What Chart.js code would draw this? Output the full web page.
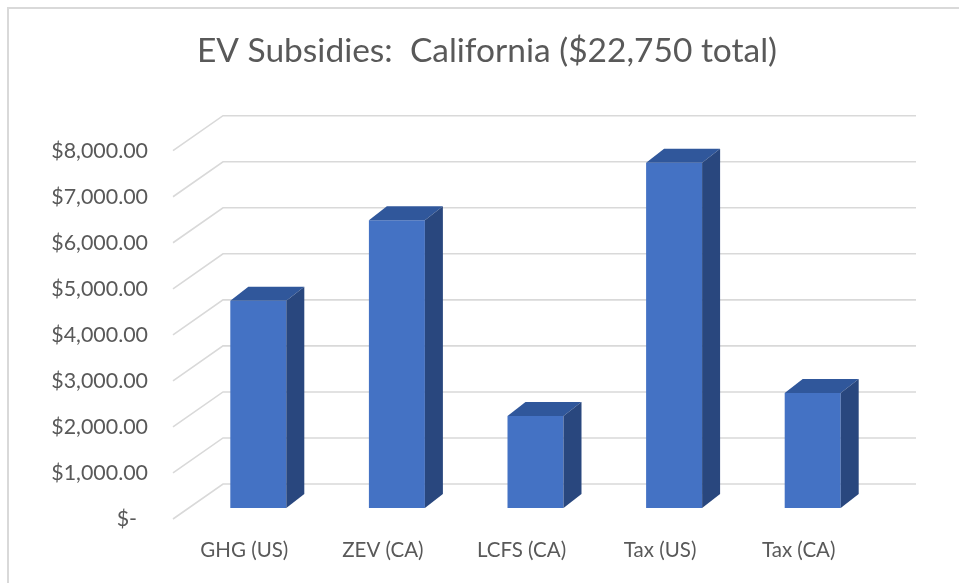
<!DOCTYPE html>
<html>
<head>
<meta charset="utf-8">
<title>EV Subsidies: California</title>
<script src="https://cdn.jsdelivr.net/npm/chart.js@4.4.1/dist/chart.umd.min.js"></script>
<style>
  html, body { margin: 0; padding: 0; background: #fff; }
  #frame {
    position: absolute; left: 7px; top: 7px; width: 960px; height: 580px;
    border-left: 2px solid #d9d9d9; border-top: 2px solid #d9d9d9;
  }
  #wrap { position: absolute; left: 0; top: 0; width: 959px; height: 583px; }
</style>
</head>
<body>
<div id="frame"></div>
<div id="wrap"><canvas id="subsidyChart"></canvas></div>
<script>
// Chart data
const categories = ['GHG (US)', 'ZEV (CA)', 'LCFS (CA)', 'Tax (US)', 'Tax (CA)'];
const subsidyValues = [4500, 6250, 2000, 7500, 2500];
const yTicks = [0, 1000, 2000, 3000, 4000, 5000, 6000, 7000, 8000];

// 3D look (Excel style 3-D column)
const textColor = '#595959';
const gridColor = '#d9d9d9';
const frontColor = '#4472c4';
const topColor = '#30579b';
const sideColor = '#29477e';
const barDepth = { dx: 18, dy: 14 };
const floorFront = { dx: -16, dy: 11 };
const floorBack = { dx: 34, dy: -24 };

// Excel accounting style: "$-" for zero
function formatMoney(v) {
    if (v === 0) return '$-  ';
    return '$' + v.toLocaleString('en-US', { minimumFractionDigits: 2, maximumFractionDigits: 2 });
}

const depth3d = {
    id: 'depth3d',
    // floor-to-wall gridlines, bent at the back wall
    beforeDatasetsDraw(chart) {
        const { ctx, chartArea, scales } = chart;
        const y = scales.y;
        ctx.save();
        ctx.strokeStyle = gridColor;
        ctx.lineWidth = 1.6;
        y.ticks.forEach(t => {
            const py = y.getPixelForValue(t.value);
            ctx.beginPath();
            ctx.moveTo(chartArea.left + floorFront.dx, py + floorFront.dy);
            ctx.lineTo(chartArea.left + floorBack.dx, py + floorBack.dy);
            ctx.lineTo(chartArea.right + floorBack.dx, py + floorBack.dy);
            ctx.stroke();
        });
        ctx.restore();
    },
    // top and side faces of each column
    afterDatasetsDraw(chart) {
        const ctx = chart.ctx;
        const meta = chart.getDatasetMeta(0);
        ctx.save();
        meta.data.forEach(bar => {
            const { x, y, base, width } = bar.getProps(['x', 'y', 'base', 'width'], true);
            const l = x - width / 2, r = x + width / 2;
            ctx.fillStyle = topColor;
            ctx.beginPath();
            ctx.moveTo(l, y);
            ctx.lineTo(l + barDepth.dx, y - barDepth.dy);
            ctx.lineTo(r + barDepth.dx, y - barDepth.dy);
            ctx.lineTo(r, y);
            ctx.closePath();
            ctx.fill();
            ctx.fillStyle = sideColor;
            ctx.beginPath();
            ctx.moveTo(r, y);
            ctx.lineTo(r + barDepth.dx, y - barDepth.dy);
            ctx.lineTo(r + barDepth.dx, base - barDepth.dy);
            ctx.lineTo(r, base);
            ctx.closePath();
            ctx.fill();
        });
        ctx.restore();
    }
};

const ctx = document.getElementById('subsidyChart').getContext('2d');
new Chart(ctx, {
    type: 'bar',
    data: {
        labels: categories,
        datasets: [{
            label: 'Subsidy',
            data: subsidyValues,
            backgroundColor: frontColor,
            borderWidth: 0,
            barPercentage: 0.404,
            categoryPercentage: 1
        }]
    },
    options: {
        responsive: true,
        maintainAspectRatio: false,
        animation: false,
        layout: { padding: { left: 15, right: 0, top: 0, bottom: 0 } },
        plugins: {
            legend: { display: false },
            tooltip: { enabled: false },
            title: {
                display: true,
                text: 'EV Subsidies:  California ($22,750 total)',
                color: textColor,
                font: { family: 'Lato', size: 33.5, weight: 'normal', lineHeight: 1.2 },
                padding: { top: 31.5, bottom: 68 }
            }
        },
        scales: {
            x: {
                grid: { display: false, drawTicks: false },
                border: { display: false },
                ticks: {
                    color: textColor,
                    font: { family: 'Lato', size: 20.5 },
                    padding: 29.7,
                    labelOffset: -14,
                    maxRotation: 0
                },
                afterFit: s => { s.height = 75; }
            },
            y: {
                min: 0,
                max: 8000,
                grid: { display: false, drawTicks: false },
                border: { display: false },
                afterBuildTicks: s => { s.ticks = yTicks.map(v => ({ value: v })); },
                ticks: {
                    color: textColor,
                    font: { family: 'Lato', size: 21.4 },
                    padding: 41,
                    labelOffset: 11,
                    callback: v => formatMoney(v)
                },
                afterFit: s => { s.width = 174; }
            },
            // empty strip on the right keeps the title centred on the whole frame
            yRight: {
                position: 'right',
                display: true,
                grid: { display: false },
                border: { display: false },
                ticks: { display: false },
                afterFit: s => { s.width = 77; }
            }
        }
    },
    plugins: [depth3d]
});
</script>
</body>
</html>
